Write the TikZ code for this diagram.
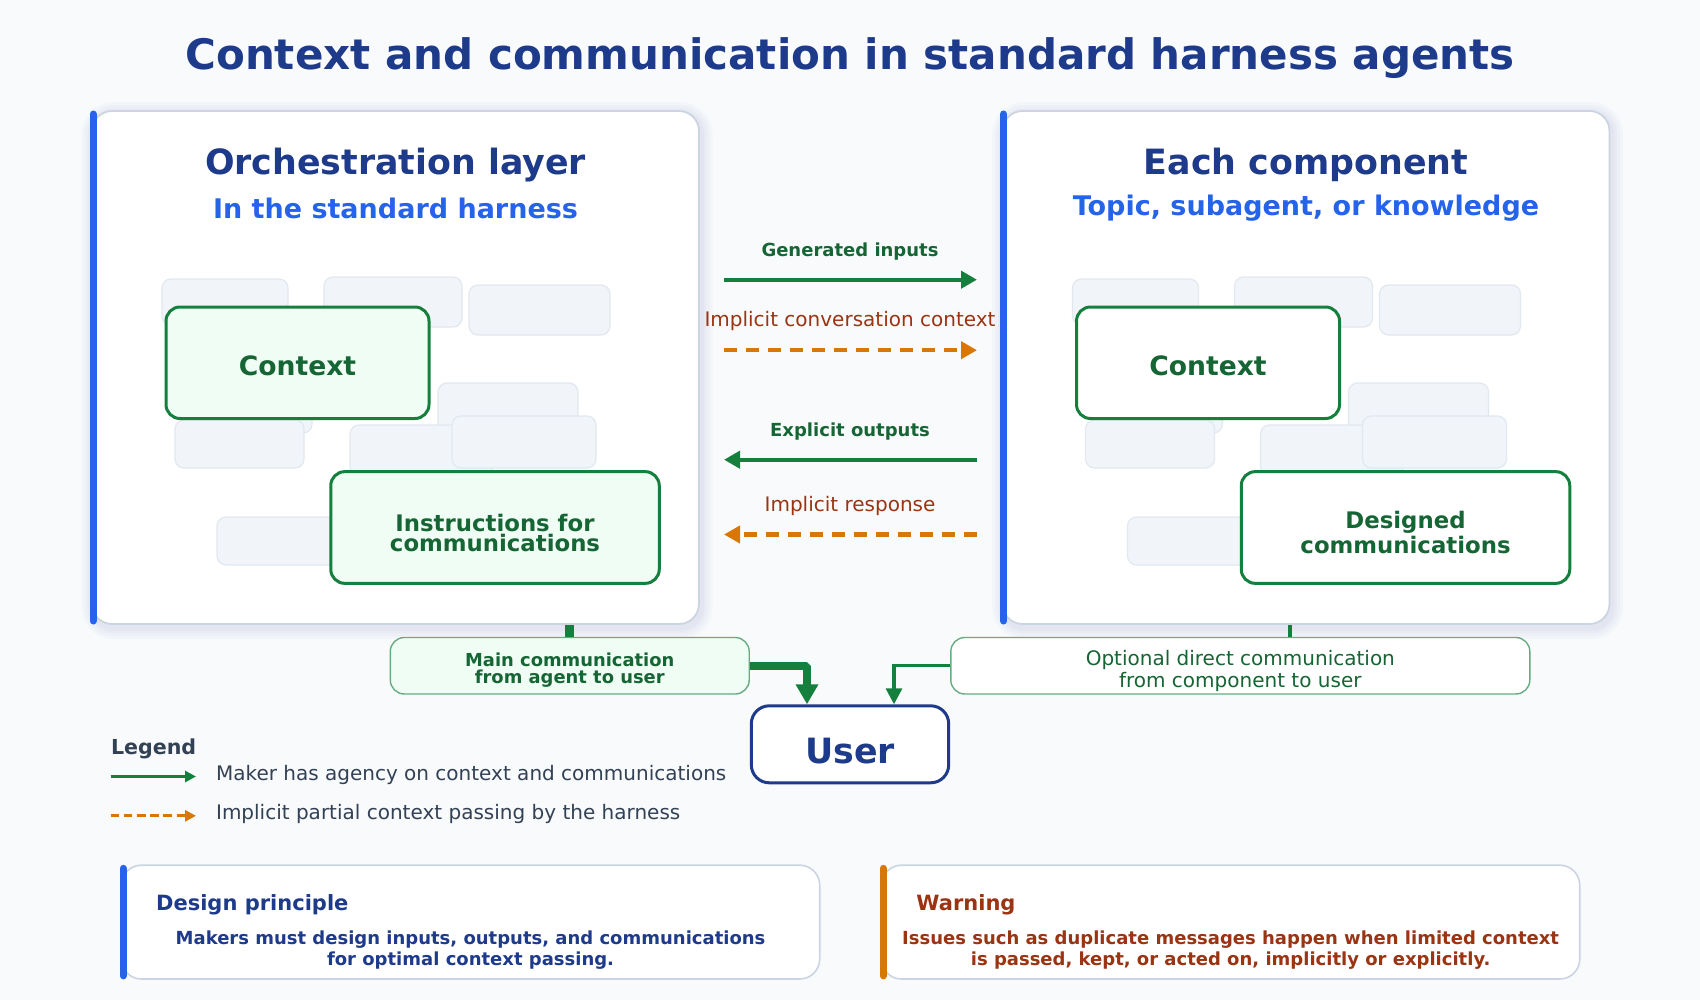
\documentclass[tikz,border=0pt]{standalone}
\usepackage{fontspec}
\setmainfont{DejaVu Sans}
\usetikzlibrary{arrows.meta}
\definecolor{cBg}{HTML}{F8FAFC}
\definecolor{cNavy}{HTML}{1E3A8A}
\definecolor{cBlue}{HTML}{2563EB}
\definecolor{cGreen}{HTML}{15803D}
\definecolor{cGreenT}{HTML}{166534}
\definecolor{cGreenF}{HTML}{F0FDF4}
\definecolor{cOrange}{HTML}{D97706}
\definecolor{cOrangeT}{HTML}{9A3412}
\definecolor{cSlate}{HTML}{334155}
\definecolor{cBorder}{HTML}{CBD5E1}
\definecolor{cGhost}{HTML}{F1F5F9}
\definecolor{cGhostB}{HTML}{E2E8F0}
\newcommand\setfs[2]{\fontsize{#1}{#2}\selectfont}
\newcommand\tallrule[1]{\rule{0pt}{#1}}
\begin{document}
\begin{tikzpicture}[x=0.5pt,y=-0.5pt,
  softshadow/.style={preaction={draw=cNavy,draw opacity=0.022,line width=#1,
    transform canvas={xshift=0.8pt,yshift=-1.6pt}}},
  panel/.style={draw=cBorder,line width=0.9pt,fill=white,rounded corners=10pt,
    minimum width=303.5pt,minimum height=256.5pt,inner sep=0pt,
    softshadow=12pt,softshadow=9pt,softshadow=6pt,softshadow=3.5pt},
  lbar/.style={draw=#1,line width=3.6pt,line cap=round},
  ghost/.style={draw=cGhostB,fill=cGhost,line width=0.6pt,rounded corners=4.5pt},
  ptitle/.style={text=cNavy,font=\setfs{17.4}{20}\bfseries},
  psub/.style={text=cBlue,font=\setfs{13.5}{16}\bfseries},
  ctxbox/.style={draw=cGreen,line width=1.5pt,rounded corners=7pt,fill=#1,
    minimum width=131.5pt,minimum height=55.75pt,inner sep=0pt,
    text=cGreenT,font=\setfs{13.3}{16}\bfseries},
  commbox/.style={draw=cGreen,line width=1.5pt,rounded corners=7pt,fill=#1,
    minimum width=164.25pt,minimum height=55.85pt,inner sep=0pt,align=center,
    text=cGreenT},
  glabel/.style={text=cGreenT,font=\setfs{9}{11}\bfseries},
  olabel/.style={text=cOrangeT,font=\setfs{10}{12}},
  solidarr/.style={draw=cGreen,line width=2.2pt,-{Triangle[length=8pt,width=8.5pt]}},
  dasharr/.style={draw=cOrange,line width=2.2pt,dash pattern=on 6.3pt off 4.7pt,
    -{Triangle[length=8pt,width=8.5pt]}},
  notebox/.style={draw=cBorder,line width=0.8pt,fill=white,rounded corners=10pt,
    minimum width=349.15pt,minimum height=56.9pt,inner sep=0pt},
  smallbox/.style={draw=cGreen!65,line width=0.7pt,rounded corners=7pt,fill=#1,
    inner sep=0pt,align=center,text=cGreenT}
]
\useasboundingbox (0,0) rectangle (1700,1000);
\fill[cBg] (0,0) rectangle (1700,1000);

% title
\node[text=cNavy,font=\setfs{21}{25}\bfseries] (title) at (850,58.5)
  {Context and communication in standard harness agents};

% panels
\node[panel] (panelL) at (395.5,367.5) {};
\draw[lbar=cBlue] ([xshift=1pt,yshift=-2pt]panelL.north west) -- ([xshift=1pt,yshift=2pt]panelL.south west);
\node[panel] (panelR) at (1306,367.5) {};
\draw[lbar=cBlue] ([xshift=1pt,yshift=-2pt]panelR.north west) -- ([xshift=1pt,yshift=2pt]panelR.south west);

\node[ptitle] (tL) at (395.5,164.8) {Orchestration layer};
\node[psub] (sL) at (395.5,208.7) {In the standard harness};
\node[ptitle] (tR) at (1306,164.8) {Each component};
\node[psub] (sR) at (1306,208) {Topic, subagent, or knowledge};

% faded background blocks
\foreach \sx in {0,910.5}{
  \begin{scope}[shift={(\sx,0)}]
    \foreach \a/\b/\c/\d in {162/279/288/325, 324/277/462/327, 469/285/610/335,
      438/383/578/460, 190/360/312/433, 175/420/304/468, 350/425/493/475,
      452/416/596/468, 217/517/360/565}
      \draw[ghost] (\a,\b) rectangle (\c,\d);
  \end{scope}
}

% inner boxes
\node[ctxbox=cGreenF] (ctxL) at (297.5,362.75) {\tallrule{13.4pt}Context};
\node[commbox=cGreenF,font=\setfs{11.4}{10.4}\bfseries] (insL) at (495,527.5)
  {\tallrule{14.1pt}Instructions for\\communications};
\node[ctxbox=white] (ctxR) at (1208,362.75) {\tallrule{13.4pt}Context};
\node[commbox=white,font=\setfs{11.4}{12.9}\bfseries] (desR) at (1405.5,527.5)
  {\tallrule{13.7pt}Designed\\communications};

% middle flows
\node[glabel] (gi) at (850,251.6) {Generated inputs};
\coordinate (giA) at (724,279.7);
\coordinate (giB) at (977,279.7);
\draw[solidarr] (giA) -- (giB);

\node[olabel] (ic) at (850,321) {Implicit conversation context};
\coordinate (icA) at (724,350.2);
\coordinate (icB) at (977,350.2);
\draw[dasharr] (icA) -- (icB);

\node[glabel] (eo) at (850,431.5) {Explicit outputs};
\coordinate (eoA) at (977,459.7);
\coordinate (eoB) at (724,459.7);
\draw[solidarr] (eoA) -- (eoB);

\node[olabel] (ir) at (850,506.4) {Implicit response};
\coordinate (irA) at (977,534.5);
\coordinate (irB) at (724,534.5);
\draw[dasharr] (irA) -- (irB);

% user and communication boxes
\node[draw=cNavy,line width=1.5pt,fill=white,rounded corners=9pt,
  minimum width=98.7pt,minimum height=38.5pt,inner sep=0pt,
  text=cNavy,font=\setfs{17.4}{20}\bfseries] (user) at (850,744.3) {\tallrule{19.7pt}User};

\node[smallbox=cGreenF,minimum width=179.45pt,minimum height=28.25pt,
  font=\setfs{8.95}{8.2}\bfseries] (mainc) at (569.75,665.75)
  {\tallrule{11.2pt}Main communication\\from agent to user};
\node[smallbox=white,minimum width=289.5pt,minimum height=28.25pt,
  font=\setfs{10}{11.3}] (optc) at (1240.3,665.75)
  {\tallrule{13pt}Optional direct communication\\from component to user};

\draw[draw=cGreen,line width=4.5pt] (mainc.north |- panelL.south) -- (mainc.north);
\draw[draw=cGreen,line width=1.6pt] ([xshift=-8pt]panelR.south) -- ([xshift=24.85pt]optc.north);

\draw[draw=cGreen,line width=3.8pt,line join=bevel,-{Triangle[length=10pt,width=10.75pt]}]
  (mainc.east) -| ([xshift=-21.5pt]user.north);
\draw[draw=cGreen,line width=1.6pt,-{Triangle[length=8pt,width=8pt]}]
  (optc.west) -| ([xshift=22pt]user.north);

% legend
\node[anchor=west,text=cSlate,font=\setfs{10.3}{12}\bfseries,inner sep=0pt] (legT) at (110.6,749.2) {Legend};
\coordinate (la1) at (110.6,776.5);
\coordinate (la2) at (196,776.5);
\draw[draw=cGreen,line width=1.6pt,-{Triangle[length=5.5pt,width=5.5pt]}] (la1) -- (la2);
\node[anchor=west,text=cSlate,font=\setfs{10}{12},inner sep=0pt] (legA) at (215.7,775.2)
  {Maker has agency on context and communications};
\coordinate (lb1) at (110.6,815.8);
\coordinate (lb2) at (196,815.8);
\draw[draw=cOrange,line width=1.6pt,dash pattern=on 4.3pt off 2.3pt,
  -{Triangle[length=5.5pt,width=5.5pt]}] (lb1) -- (lb2);
\node[anchor=west,text=cSlate,font=\setfs{10}{12},inner sep=0pt] (legB) at (215.7,814.2)
  {Implicit partial context passing by the harness};

% bottom notes
\node[notebox] (dp) at (470.55,922.1) {};
\draw[lbar=cBlue] ([xshift=1.3pt,yshift=-2pt]dp.north west) -- ([xshift=1.3pt,yshift=2pt]dp.south west);
\node[anchor=west,text=cNavy,font=\setfs{10.5}{12}\bfseries,inner sep=0pt] (dpT) at (155.7,904.9) {Design principle};
\node[text=cNavy,font=\setfs{9}{10.5}\bfseries,align=center,inner sep=0pt] (dpB) at (470.55,950)
  {Makers must design inputs, outputs, and communications\\for optimal context passing.};

\node[notebox] (wn) at (1230.6,922.1) {};
\draw[lbar=cOrange] ([xshift=1.3pt,yshift=-2pt]wn.north west) -- ([xshift=1.3pt,yshift=2pt]wn.south west);
\node[anchor=west,text=cOrangeT,font=\setfs{10.5}{12}\bfseries,inner sep=0pt] (wnT) at (916,904.9) {Warning};
\node[text=cOrangeT,font=\setfs{9}{10.5}\bfseries,align=center,inner sep=0pt] (wnB) at (1230.6,950)
  {Issues such as duplicate messages happen when limited context\\is passed, kept, or acted on, implicitly or explicitly.};
\end{tikzpicture}
\end{document}
